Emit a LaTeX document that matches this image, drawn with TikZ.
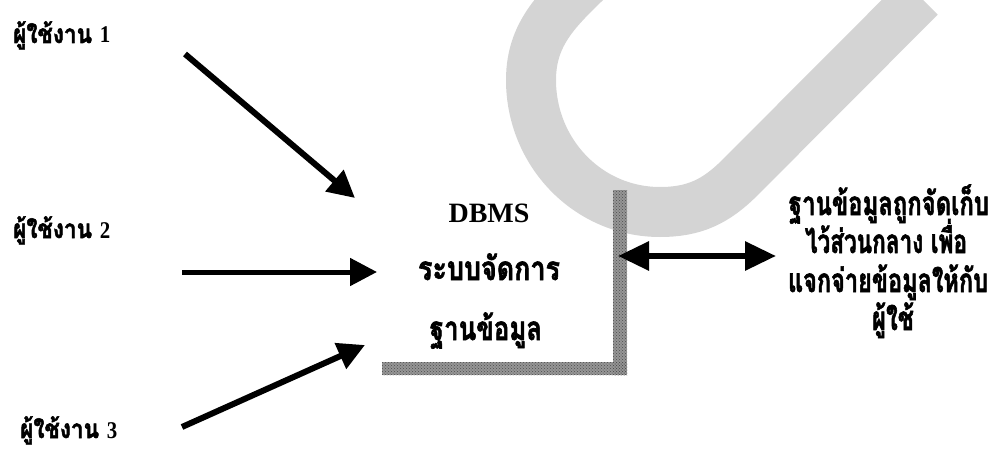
\documentclass[tikz,border=0pt]{standalone}
\usepackage{graphicx}
\usepackage{fontspec}
\setmainfont{Liberation Serif}
\newfontfamily\thai[Script=Thai, BoldFeatures={FakeBold=2}]{Loma}
\usetikzlibrary{arrows.meta,patterns}

\definecolor{markgray}{RGB}{212,212,212}
\definecolor{bargray}{RGB}{150,150,150}

% set a line of text to a given width, keeping its height
\newcommand\squeezeto[2]{\resizebox{#1}{\height}{#2}}
% bold serif digit after a user label
\newcommand\usernum[1]{{\rmfamily\fontsize{24}{24}\selectfont\bfseries #1}}

\begin{document}
\begin{tikzpicture}[x=1pt,y=1pt,
  userlbl/.style={font=\fontsize{26}{26}\selectfont\bfseries\thai, inner sep=0pt, anchor=base west},
  midtxt/.style={font=\fontsize{33}{33}\selectfont\bfseries\thai, inner sep=0pt, anchor=base},
  sidetxt/.style={font=\fontsize{33}{33}\selectfont\bfseries\thai, inner sep=0pt, anchor=base},
  flow/.style={line width=6pt, -{Triangle[length=27pt,width=27pt]}},
  both/.style={line width=6pt, {Triangle[length=31pt,width=28pt]}-{Triangle[length=31pt,width=28pt]}},
]
\useasboundingbox (0,0) rectangle (988,448);

% light grey band in the background
\begin{scope}
  \clip (0,0) rectangle (988,448);
  \draw[markgray, line width=50pt]
    (600,480) to[out=225,in=90] (531,368) to[out=270,in=180] (660,236)
    to[out=0,in=225] (740,270.5) -- (920,451);
\end{scope}

% the DBMS corner
\fill[bargray] (613,73) rectangle (627,258);
\fill[bargray] (382,73) rectangle (627,86);
\fill[pattern=crosshatch dots, pattern color=black!70] (613,73) rectangle (627,258);
\fill[pattern=crosshatch dots, pattern color=black!70] (382,73) rectangle (627,86);

% users
\node[userlbl] (u1) at (13,405) {\squeezeto{97pt}{ผู้ใช้งาน \usernum{1}}};
\node[userlbl] (u2) at (13,210) {\squeezeto{97pt}{ผู้ใช้งาน \usernum{2}}};
\node[userlbl] (u3) at (20,10) {\squeezeto{97pt}{ผู้ใช้งาน \usernum{3}}};

% DBMS
\node[font=\fontsize{28}{28}\selectfont\bfseries, inner sep=0pt, anchor=base] (dbms) at (489,226) {DBMS};
\node[midtxt] (sys) at (489,168) {\squeezeto{142pt}{ระบบจัดการ}};
\node[midtxt] (db) at (486,108) {\squeezeto{112pt}{ฐานข้อมูล}};

% shared database
\node[sidetxt] (s1) at (889,233) {\squeezeto{200pt}{ฐานข้อมูลถูกจัดเก็บ}};
\node[sidetxt] (s2) at (886,195) {\squeezeto{162pt}{ไว้ส่วนกลาง เพื่อ}};
\node[sidetxt] (s3) at (888,156) {\squeezeto{200pt}{แจกจ่ายข้อมูลให้กับ}};
\node[sidetxt] (s4) at (893,118) {\squeezeto{42pt}{ผู้ใช้}};

% arrow ends
\coordinate (a1s) at (185,394);
\coordinate (a1e) at (355,250);
\coordinate (a2s) at (182,176);
\coordinate (a2e) at (377,176);
\coordinate (a3s) at (182,21);
\coordinate (a3e) at (365,103);
\coordinate (dl) at (618,192);
\coordinate (dr) at (776,192);

\draw[flow] (a1s) -- (a1e);
\draw[flow, line width=5pt] (a2s) -- (a2e);
\draw[flow] (a3s) -- (a3e);
\draw[both] (dl) -- (dr);
\end{tikzpicture}
\end{document}
